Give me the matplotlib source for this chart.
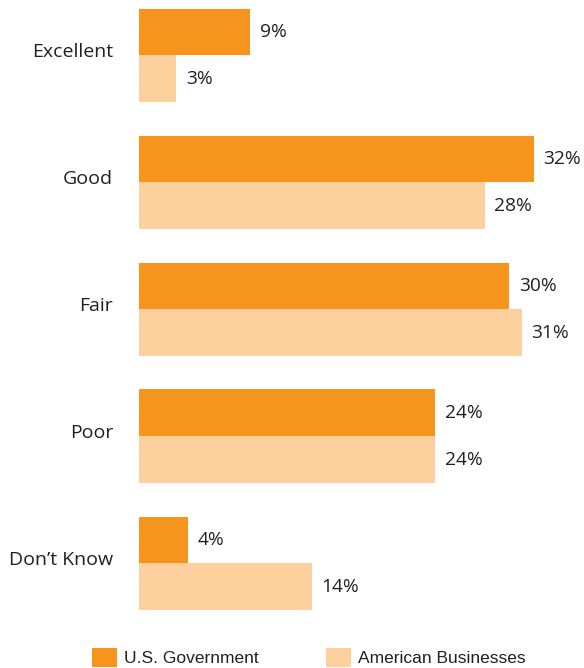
import matplotlib
matplotlib.use("Agg")
import matplotlib.pyplot as plt
from matplotlib.patches import Patch
import numpy as np

categories = ["Excellent", "Good", "Fair", "Poor", "Don\u2019t Know"]
us_government = [9, 32, 30, 24, 4]
american_businesses = [3, 28, 31, 24, 14]
series_names = ["U.S. Government", "American Businesses"]

ORANGE = "#F7941E"
LIGHT = "#FDD09E"
TEXT = "#231F20"
LABEL_FONT = ["Open Sans", "DejaVu Sans"]
LEGEND_FONT = ["Liberation Sans", "DejaVu Sans"]

W, H = 584, 668
fig = plt.figure(figsize=(W / 100, H / 100), dpi=100)

# axes spans from the bar baseline to the right edge
left_px, bottom_px = 139, 630
ax = fig.add_axes([left_px / W, (H - bottom_px) / H, 1 - left_px / W, bottom_px / H])

px_per_unit_x = 12.34
ax.set_xlim(0, (W - left_px) / px_per_unit_x)
group_px = 127.0
ax.set_ylim((bottom_px - 55) / group_px, -55 / group_px)

y = np.arange(len(categories))
bh = 46.5 / group_px
ax.barh(y - bh / 2, us_government, height=bh, color=ORANGE, linewidth=0)
ax.barh(y + bh / 2, american_businesses, height=bh, color=LIGHT, linewidth=0)

for i in range(len(categories)):
    for val, yy in ((us_government[i], y[i] - bh / 2), (american_businesses[i], y[i] + bh / 2)):
        ax.annotate(f"{val}%", xy=(val, yy), xytext=(7.0, -0.5), textcoords="offset points",
                    ha="left", va="center", fontsize=13.8, color=TEXT, family=LABEL_FONT)
    ax.annotate(categories[i], xy=(0, y[i]), xycoords=("axes fraction", "data"),
                xytext=(-18.5, 2.5), textcoords="offset points",
                ha="right", va="center", fontsize=14, color=TEXT, family=LABEL_FONT)

ax.set_axis_off()

handles = [Patch(facecolor=ORANGE, edgecolor="none"), Patch(facecolor=LIGHT, edgecolor="none")]
fs = 12.5
fs_px = fs / 0.72
fig.legend(handles, series_names, loc="lower left",
           bbox_to_anchor=(92 / W, 1 / H), ncol=2, frameon=False,
           borderpad=0, borderaxespad=0,
           handlelength=25 / fs_px, handleheight=23 / fs_px,
           handletextpad=7 / fs_px, columnspacing=67 / fs_px,
           prop={"family": LEGEND_FONT, "size": fs}, labelcolor=TEXT)

fig.savefig("out.png", dpi=100, facecolor="white")
